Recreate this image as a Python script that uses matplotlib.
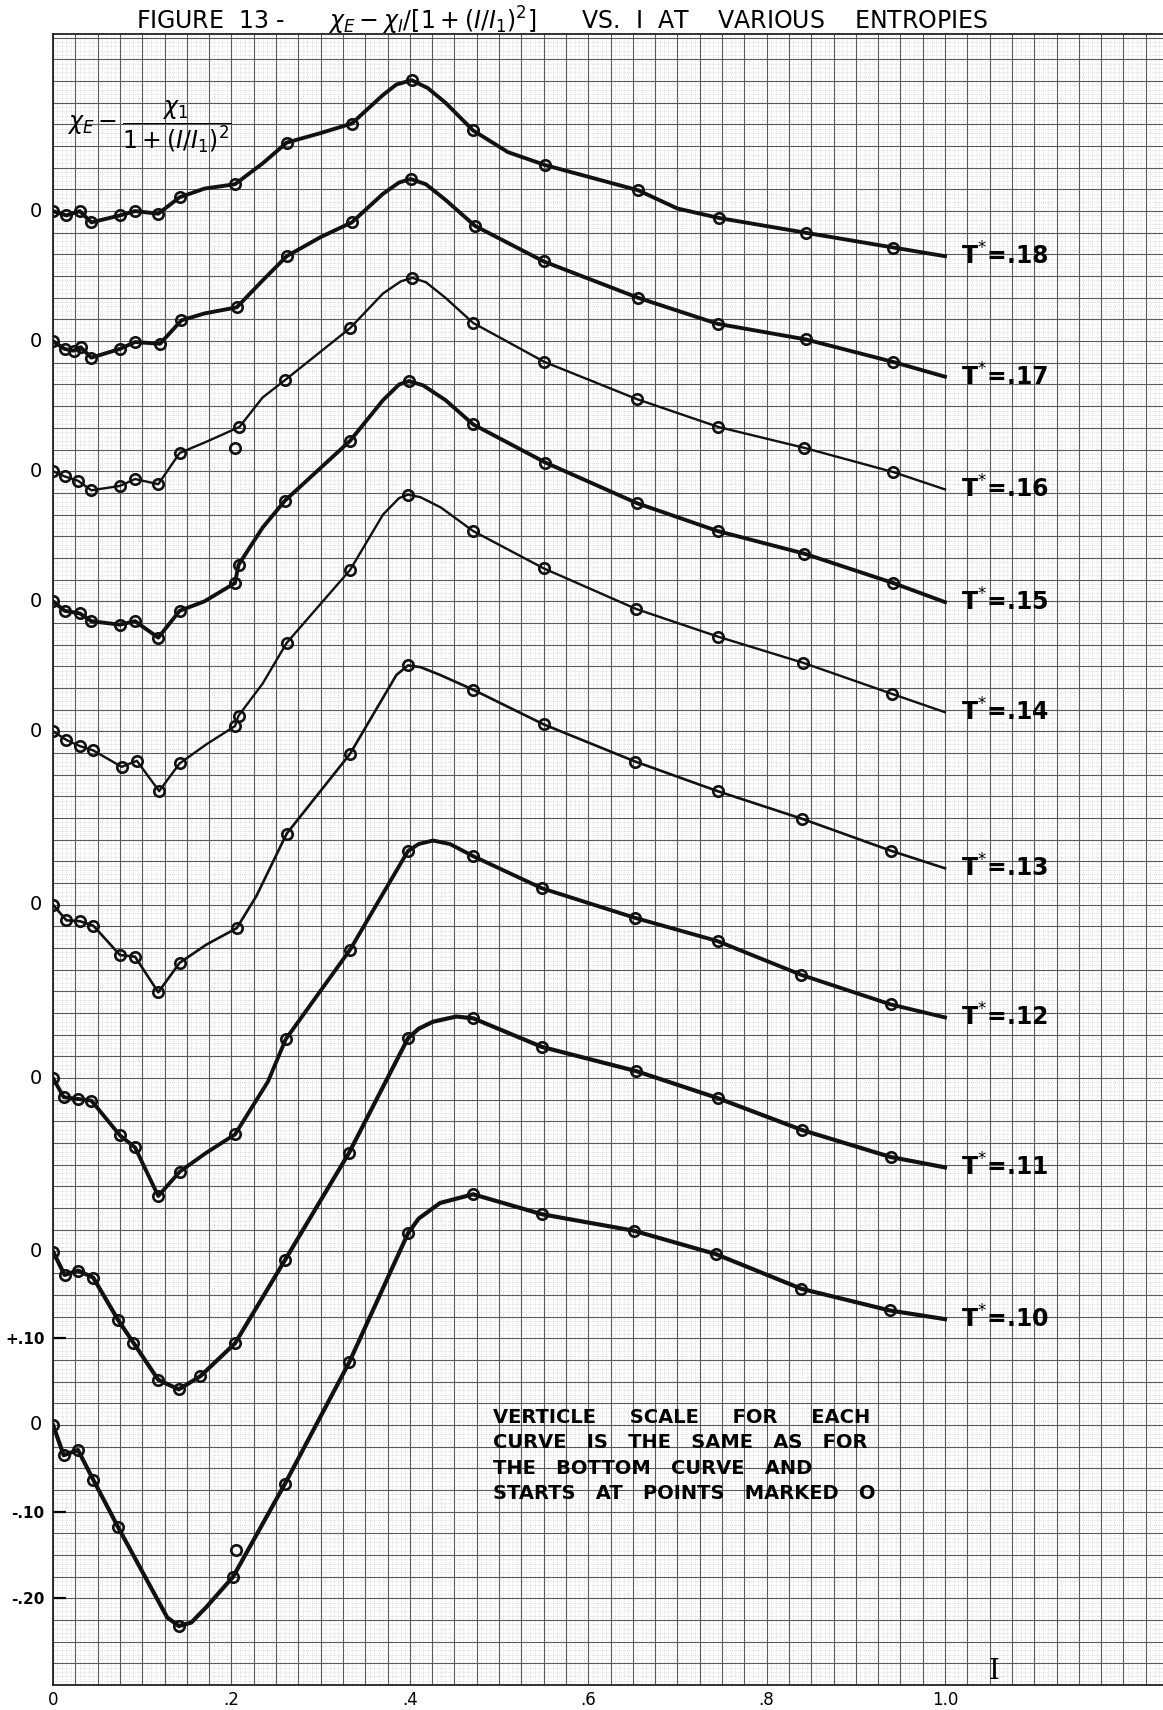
import matplotlib
matplotlib.use("Agg")
import matplotlib.pyplot as plt
import numpy as np

# entropy of each curve, top to bottom, and where its "0" sits on the bottom-curve scale
entropies = [".18", ".17", ".16", ".15", ".14", ".13", ".12", ".11", ".10"]
zero_levels = [1.40, 1.25, 1.10, 0.95, 0.80, 0.60, 0.40, 0.20, 0.0]

# plotted points (I, value above the curve's own 0)
t18_pts = [(0.0, 0.0), (0.015, -0.005), (0.030, 0.0), (0.043, -0.013), (0.075, -0.005),
           (0.092, 0.0), (0.118, -0.003), (0.142, 0.016), (0.204, 0.031), (0.262, 0.079),
           (0.335, 0.101), (0.402, 0.151), (0.471, 0.093), (0.552, 0.053), (0.656, 0.024),
           (0.747, -0.008), (0.844, -0.025), (0.942, -0.042)]
t17_pts = [(0.0, 0.0), (0.013, -0.009), (0.023, -0.011), (0.031, -0.007), (0.043, -0.019),
           (0.075, -0.009), (0.092, -0.001), (0.120, -0.003), (0.144, 0.024), (0.206, 0.039),
           (0.262, 0.098), (0.335, 0.137), (0.401, 0.187), (0.473, 0.133), (0.550, 0.092),
           (0.656, 0.050), (0.745, 0.020), (0.844, 0.002), (0.942, -0.024)]
t16_pts = [(0.0, 0.0), (0.013, -0.006), (0.028, -0.011), (0.043, -0.022), (0.075, -0.017),
           (0.092, -0.009), (0.118, -0.015), (0.142, 0.021), (0.209, 0.051), (0.260, 0.105),
           (0.333, 0.165), (0.403, 0.223), (0.471, 0.171), (0.551, 0.126), (0.655, 0.083),
           (0.746, 0.051), (0.842, 0.027), (0.942, -0.001)]
t15_pts = [(0.0, 0.0), (0.013, -0.011), (0.030, -0.014), (0.043, -0.023), (0.075, -0.027),
           (0.092, -0.023), (0.118, -0.042), (0.142, -0.011), (0.204, 0.021), (0.208, 0.042),
           (0.260, 0.116), (0.333, 0.185), (0.399, 0.254), (0.471, 0.204), (0.552, 0.160),
           (0.655, 0.113), (0.745, 0.081), (0.842, 0.055), (0.942, 0.021)]
t14_pts = [(0.0, 0.0), (0.015, -0.010), (0.030, -0.017), (0.045, -0.022), (0.077, -0.041),
           (0.094, -0.034), (0.119, -0.069), (0.142, -0.037), (0.204, 0.006), (0.208, 0.018),
           (0.262, 0.102), (0.333, 0.186), (0.398, 0.273), (0.471, 0.231), (0.550, 0.188),
           (0.654, 0.141), (0.746, 0.109), (0.841, 0.079), (0.941, 0.043)]
t13_pts = [(0.0, 0.0), (0.015, -0.018), (0.030, -0.019), (0.045, -0.024), (0.075, -0.058),
           (0.092, -0.060), (0.118, -0.101), (0.142, -0.067), (0.206, -0.027), (0.262, 0.082),
           (0.333, 0.174), (0.398, 0.276), (0.471, 0.248), (0.550, 0.208), (0.653, 0.165),
           (0.745, 0.131), (0.840, 0.099), (0.940, 0.062)]
t12_pts = [(0.0, 0.0), (0.012, -0.022), (0.028, -0.024), (0.043, -0.026), (0.075, -0.066),
           (0.092, -0.080), (0.118, -0.136), (0.142, -0.108), (0.204, -0.065), (0.261, 0.045),
           (0.333, 0.148), (0.398, 0.262), (0.471, 0.256), (0.548, 0.219), (0.652, 0.185),
           (0.745, 0.158), (0.839, 0.119), (0.939, 0.085)]
t11_pts = [(0.0, 0.0), (0.013, -0.027), (0.028, -0.022), (0.045, -0.030), (0.073, -0.079),
           (0.090, -0.105), (0.118, -0.148), (0.141, -0.159), (0.165, -0.144), (0.204, -0.106),
           (0.260, -0.010), (0.332, 0.114), (0.398, 0.246), (0.471, 0.269), (0.548, 0.236),
           (0.654, 0.208), (0.745, 0.177), (0.840, 0.140), (0.939, 0.109)]
t10_pts = [(0.0, 0.0), (0.012, -0.035), (0.028, -0.029), (0.045, -0.063), (0.073, -0.118),
           (0.141, -0.232), (0.202, -0.175), (0.260, -0.068), (0.332, 0.072), (0.398, 0.221),
           (0.471, 0.266), (0.548, 0.243), (0.651, 0.224), (0.743, 0.197), (0.839, 0.157),
           (0.938, 0.132)]

# where the pen line bends between the circles, and where it ends at I = 1.0
t18_bends = [(0.17, 0.026), (0.235, 0.055), (0.30, 0.090), (0.37, 0.134), (0.385, 0.146),
             (0.42, 0.142), (0.44, 0.125), (0.51, 0.068), (0.70, 0.003), (1.0, -0.052)]
t17_bends = [(0.17, 0.032), (0.235, 0.070), (0.30, 0.120), (0.37, 0.170), (0.388, 0.183),
             (0.418, 0.181), (0.44, 0.163), (1.0, -0.041)]
t16_bends = [(0.172, 0.034), (0.235, 0.085), (0.37, 0.205), (0.39, 0.219), (0.418, 0.218),
             (0.44, 0.200), (1.0, -0.021)]
t15_bends = [(0.17, 0.0), (0.235, 0.085), (0.37, 0.232), (0.388, 0.250), (0.415, 0.249),
             (0.44, 0.232), (1.0, -0.001)]
t14_bends = [(0.172, -0.015), (0.235, 0.055), (0.37, 0.250), (0.388, 0.269), (0.412, 0.270),
             (0.435, 0.258), (1.0, 0.022)]
t13_bends = [(0.172, -0.046), (0.228, 0.010), (0.385, 0.265), (0.412, 0.274), (0.434, 0.265),
             (1.0, 0.042)]
t12_bends = [(0.172, -0.086), (0.241, -0.004), (0.41, 0.270), (0.426, 0.274), (0.445, 0.270),
             (1.0, 0.070)]
t11_bends = [(0.41, 0.257), (0.426, 0.265), (0.452, 0.271), (1.0, 0.097)]
t10_bends = [(0.128, -0.222), (0.155, -0.228), (0.172, -0.210), (0.41, 0.238), (0.434, 0.256),
             (1.0, 0.122)]

# circles drawn off the line
t16_stray = [(0.204, 0.027)]
t10_stray = [(0.205, -0.144)]

x_ticks = [0, 0.2, 0.4, 0.6, 0.8, 1.0]
x_labels = ["0", ".2", ".4", ".6", ".8", "1.0"]
y_ticks = [-0.2, -0.1, 0.1]
y_labels = ["-.20", "-.10", "+.10"]

note = ["VERTICLE     SCALE     FOR     EACH",
        "CURVE   IS   THE   SAME   AS   FOR",
        "THE   BOTTOM   CURVE   AND",
        "STARTS   AT   POINTS   MARKED   O"]

W, H = 1163, 1710
fig = plt.figure(figsize=(W / 100, H / 100), dpi=100)
fig.patch.set_facecolor("white")

left_px, top_px, bot_px, unit_x, unit_y = 53, 34, 1685, 892, 867
ax = fig.add_axes([left_px / W, 1 - bot_px / H, 1 - left_px / W, (bot_px - top_px) / H])
xmax = (W - left_px) / unit_x
ymin = -0.30
ymax = ymin + (bot_px - top_px) / unit_y
ax.set_xlim(0, xmax)
ax.set_ylim(ymin, ymax)

# graph paper
for v in np.arange(0, xmax, 0.005):
    if abs(v / 0.025 - round(v / 0.025)) < 1e-6:
        ax.axvline(v, color="#5a5a5a", lw=0.8, zorder=1)
    else:
        ax.axvline(v, color="#c6c6c6", lw=0.5, ls=(0, (1, 1.8)), zorder=0)
for v in np.arange(ymin, ymax, 0.005):
    if abs(v / 0.025 - round(v / 0.025)) < 1e-6:
        ax.axhline(v, color="#5a5a5a", lw=0.8, zorder=1)
    else:
        ax.axhline(v, color="#c6c6c6", lw=0.5, ls=(0, (1, 1.8)), zorder=0)

all_pts = [t18_pts, t17_pts, t16_pts, t15_pts, t14_pts, t13_pts, t12_pts, t11_pts, t10_pts]
all_bends = [t18_bends, t17_bends, t16_bends, t15_bends, t14_bends, t13_bends, t12_bends,
             t11_bends, t10_bends]
pen = [2.8, 2.8, 1.7, 2.8, 1.7, 1.9, 2.8, 3.0, 3.0]

for pts, bends, z, lab, lw in zip(all_pts, all_bends, zero_levels, entropies, pen):
    line = sorted(pts + bends)
    lx = [p[0] for p in line]
    ly = [p[1] + z for p in line]
    ax.plot(lx, ly, color="#111111", lw=lw, solid_joinstyle="round", zorder=3)
    ax.plot([p[0] for p in pts], [p[1] + z for p in pts], "o", ms=7.5, mfc="none",
            mec="#111111", mew=1.9, zorder=4)
    ax.text(1.018, ly[-1], "T$^{*}$=" + lab, fontsize=17, fontweight="bold",
            ha="left", va="center", zorder=5)
    ax.text(-0.019, z, "0", fontsize=14, ha="center", va="center", clip_on=False)

for stray, z in [(t16_stray, zero_levels[2]), (t10_stray, zero_levels[8])]:
    ax.plot([p[0] for p in stray], [p[1] + z for p in stray], "o", ms=7.5, mfc="none",
            mec="#111111", mew=1.9, zorder=4)

ax.set_xticks(x_ticks)
ax.set_xticklabels(x_labels, fontsize=12)
ax.tick_params(axis="x", length=0, pad=4)
ax.set_yticks(y_ticks)
ax.set_yticklabels(y_labels, fontsize=11, fontweight="bold")
ax.tick_params(axis="y", direction="in", length=9, width=1.6, pad=6)

for s in ["left", "top", "bottom"]:
    ax.spines[s].set_color("#222222")
    ax.spines[s].set_linewidth(1.3)
ax.spines["right"].set_visible(False)

ax.text(0.108, 1.497, r"$\chi_E - \dfrac{\chi_1}{1+(I/I_1)^2}$", fontsize=17,
        ha="center", va="center", zorder=5)

for i, row in enumerate(note):
    ax.text(0.493, 0.009 - i * 0.0295, row, fontsize=14, fontweight="bold",
            ha="left", va="center", zorder=5)

ax.text(1.055, -0.285, "I", fontsize=20, family="DejaVu Serif", ha="center", va="center")

fig.text(562 / W, 1 - 30 / H,
         r"FIGURE  13 -      $\chi_E - \chi_I/[1+(I/I_1)^2]$      VS.  I  AT    VARIOUS    ENTROPIES",
         fontsize=17, ha="center", va="baseline")

fig.savefig("out.png", dpi=100)
